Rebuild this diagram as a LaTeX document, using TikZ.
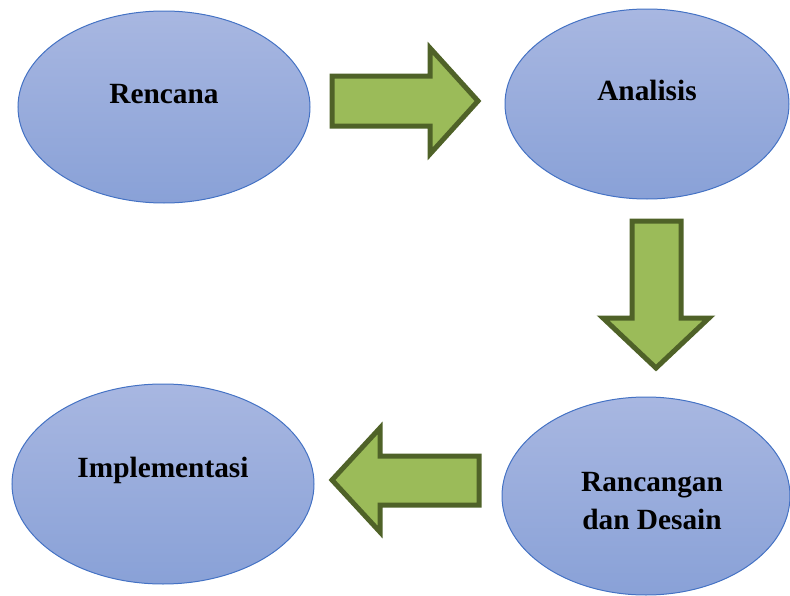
\documentclass[tikz,border=0pt]{standalone}
\usepackage{fontspec}
\setmainfont{Liberation Serif}
\definecolor{ovaltop}{RGB}{168,183,225}
\definecolor{ovalbot}{RGB}{137,161,215}
\definecolor{ovalline}{RGB}{68,114,196}
\definecolor{arrowfill}{RGB}{155,187,89}
\definecolor{arrowline}{RGB}{79,98,40}
\begin{document}
\begin{tikzpicture}[x=0.75pt,y=0.75pt,yscale=-1,xscale=1,
  stage/.style={draw=ovalline,line width=0.75,top color=ovaltop,bottom color=ovalbot},
  blockarrow/.style={draw=arrowline,fill=arrowfill,line width=3.75pt,line join=miter},
  lbl/.style={inner sep=0.75pt,align=center,font=\fontsize{22}{28}\selectfont\bfseries}]
\useasboundingbox (0,0) rectangle (790,596);
\clip (0,0) rectangle (790,596);
%ovals
\draw [stage] (164,107) ellipse (146 and 96);
\draw [stage] (647,104) ellipse (142 and 95);
\draw [stage] (646,496) ellipse (144 and 99);
\draw [stage] (163,484) ellipse (151 and 100);
%block arrows
\draw [blockarrow] (332,76) -- (430,76) -- (430,48) -- (478,101) -- (430,154) -- (430,126) -- (332,126) -- cycle ;
\draw [blockarrow] (632,221) -- (681,221) -- (681,318) -- (709,318) -- (656,368) -- (603,318) -- (632,318) -- cycle ;
\draw [blockarrow] (332,480) -- (380,428) -- (380,456) -- (479,456) -- (479,505) -- (380,505) -- (380,532) -- cycle ;
%labels
\draw (164,94) node [lbl] (rencana) {Rencana};
\draw (647,90) node [lbl] (analisis) {Analisis};
\draw (652,501) node [lbl] (rancangan) {Rancangan\\dan Desain};
\draw (163,470) node [lbl] (implementasi) {Implementasi};
\end{tikzpicture}
\end{document}
